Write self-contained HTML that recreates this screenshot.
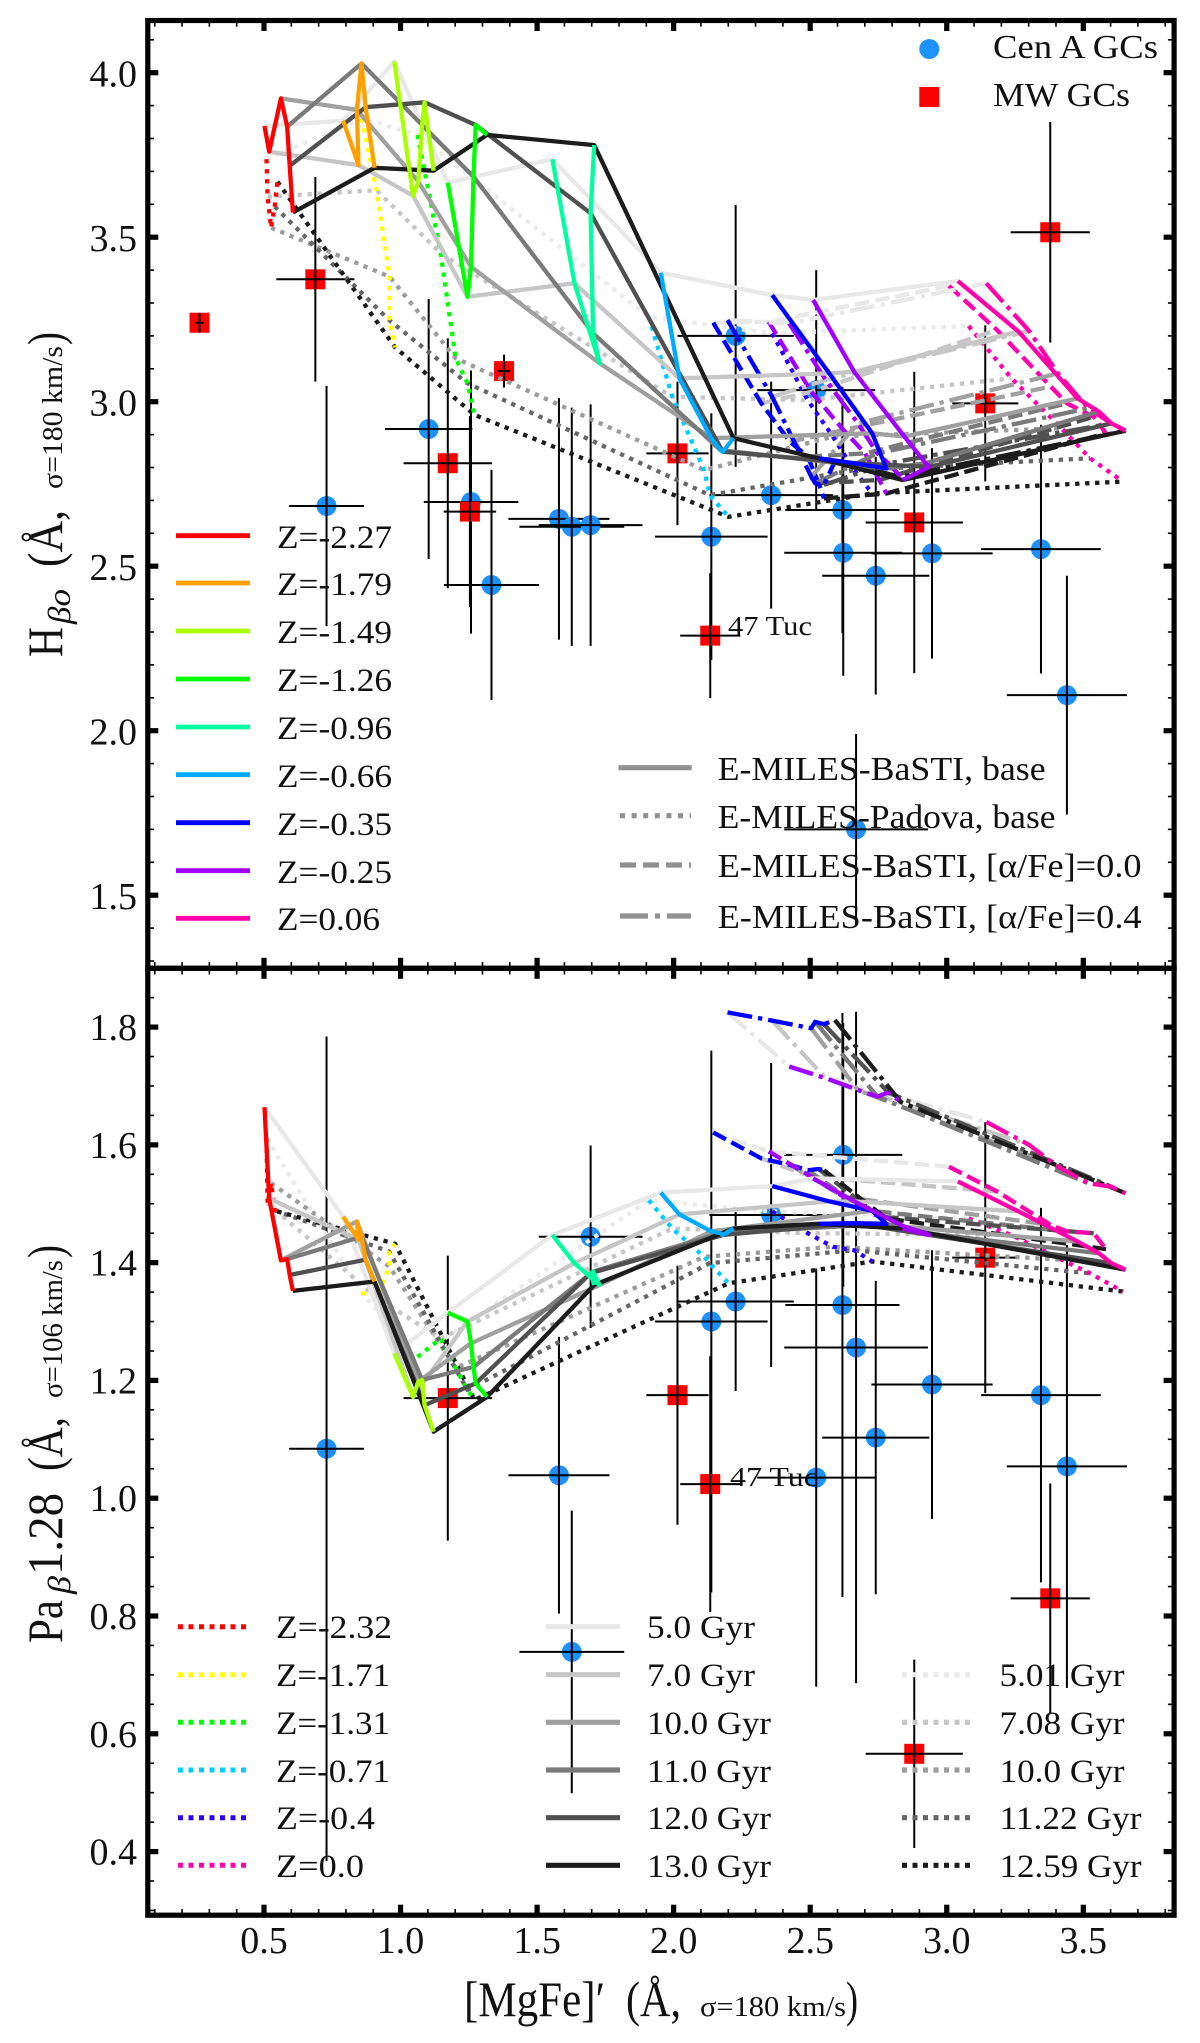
<!DOCTYPE html>
<html lang="en">
<head>
<meta charset="utf-8">
<title>H-beta and Pa-beta versus MgFe index grid</title>
<style>
html,body{margin:0;padding:0;background:#fff;}
svg{display:block;}
text{font-family:"Liberation Serif","DejaVu Serif",serif;fill:#111;}
</style>
</head>
<body>
<svg id="chart" xmlns="http://www.w3.org/2000/svg" width="1200" height="2043" viewBox="0 0 1200 2043">
  <rect x="0" y="0" width="1200" height="2043" fill="#fff"/>
  <g id="data-layer"></g>
  <g id="model-layer"></g>
  <g id="axis-layer"></g>

  <!-- Axis titles -->
  <g>
    <text transform="translate(62,657) rotate(-90)" font-size="50" textLength="30" lengthAdjust="spacingAndGlyphs">H</text>
    <text transform="translate(70,624) rotate(-90)" font-size="32" font-style="italic" textLength="35" lengthAdjust="spacingAndGlyphs">βo</text>
    <text transform="translate(62,567) rotate(-90)" font-size="50" textLength="57" lengthAdjust="spacingAndGlyphs">(Å,</text>
    <text transform="translate(62,489) rotate(-90)" font-size="28" textLength="143" lengthAdjust="spacingAndGlyphs">σ=180 km/s</text>
    <text transform="translate(62,345) rotate(-90)" font-size="50" textLength="13" lengthAdjust="spacingAndGlyphs">)</text>
  </g>
  <g>
    <text transform="translate(62,1643) rotate(-90)" font-size="50" textLength="43" lengthAdjust="spacingAndGlyphs">Pa</text>
    <text transform="translate(70,1594) rotate(-90)" font-size="32" font-style="italic" textLength="18" lengthAdjust="spacingAndGlyphs">β</text>
    <text transform="translate(62,1575) rotate(-90)" font-size="50" textLength="82" lengthAdjust="spacingAndGlyphs">1.28</text>
    <text transform="translate(62,1471) rotate(-90)" font-size="50" textLength="54" lengthAdjust="spacingAndGlyphs">(Å,</text>
    <text transform="translate(62,1398) rotate(-90)" font-size="28" textLength="138" lengthAdjust="spacingAndGlyphs">σ=106 km/s</text>
    <text transform="translate(62,1258) rotate(-90)" font-size="50" textLength="13" lengthAdjust="spacingAndGlyphs">)</text>
  </g>
  <g>
    <text x="464" y="2016" font-size="50" textLength="141" lengthAdjust="spacingAndGlyphs">[MgFe]′</text>
    <text x="626" y="2016" font-size="50" textLength="55" lengthAdjust="spacingAndGlyphs">(Å,</text>
    <text x="700" y="2016" font-size="28" textLength="146" lengthAdjust="spacingAndGlyphs">σ=180 km/s</text>
    <text x="846" y="2016" font-size="50" textLength="12" lengthAdjust="spacingAndGlyphs">)</text>
  </g>

  <!-- Top-right marker legend -->
  <g>
    <circle cx="929.3" cy="49" r="10" fill="#1e90ff"/>
    <text x="993" y="58" font-size="34" textLength="165" lengthAdjust="spacingAndGlyphs">Cen A GCs</text>
  </g>
  <g>
    <rect x="919.3" y="87" width="20" height="20" fill="#ff0000"/>
    <text x="993" y="106" font-size="34" textLength="137" lengthAdjust="spacingAndGlyphs">MW GCs</text>
  </g>

  <!-- Top-left metallicity legend -->
  <g><line x1="176" x2="250" y1="535.7" y2="535.7" stroke="#ff0000" stroke-width="4.8"/><text x="277" y="548" font-size="33" textLength="115" lengthAdjust="spacingAndGlyphs">Z=-2.27</text></g>
  <g><line x1="176" x2="250" y1="583" y2="583" stroke="#ffa000" stroke-width="4.8"/><text x="277" y="595" font-size="33" textLength="115" lengthAdjust="spacingAndGlyphs">Z=-1.79</text></g>
  <g><line x1="176" x2="250" y1="631" y2="631" stroke="#aaff00" stroke-width="4.8"/><text x="277" y="643" font-size="33" textLength="115" lengthAdjust="spacingAndGlyphs">Z=-1.49</text></g>
  <g><line x1="176" x2="250" y1="679" y2="679" stroke="#00ff00" stroke-width="4.8"/><text x="277" y="691" font-size="33" textLength="115" lengthAdjust="spacingAndGlyphs">Z=-1.26</text></g>
  <g><line x1="176" x2="250" y1="727" y2="727" stroke="#00ffa0" stroke-width="4.8"/><text x="277" y="739" font-size="33" textLength="115" lengthAdjust="spacingAndGlyphs">Z=-0.96</text></g>
  <g><line x1="176" x2="250" y1="774.7" y2="774.7" stroke="#00aaff" stroke-width="4.8"/><text x="277" y="787" font-size="33" textLength="115" lengthAdjust="spacingAndGlyphs">Z=-0.66</text></g>
  <g><line x1="176" x2="250" y1="822.7" y2="822.7" stroke="#0000ff" stroke-width="4.8"/><text x="277" y="835" font-size="33" textLength="115" lengthAdjust="spacingAndGlyphs">Z=-0.35</text></g>
  <g><line x1="176" x2="250" y1="870.7" y2="870.7" stroke="#a000ff" stroke-width="4.8"/><text x="277" y="883" font-size="33" textLength="115" lengthAdjust="spacingAndGlyphs">Z=-0.25</text></g>
  <g><line x1="176" x2="250" y1="918.3" y2="918.3" stroke="#ff00aa" stroke-width="4.8"/><text x="277" y="930" font-size="33" textLength="103" lengthAdjust="spacingAndGlyphs">Z=0.06</text></g>

  <!-- Model type legend -->
  <g><line x1="618.5" x2="691.7" y1="767.7" y2="767.7" stroke="#909090" stroke-width="5.2"/><text x="717.6" y="780" font-size="34" textLength="328" lengthAdjust="spacingAndGlyphs">E-MILES-BaSTI, base</text></g>
  <g><line x1="620" x2="691" y1="815.7" y2="815.7" stroke="#909090" stroke-width="5.2" stroke-dasharray="5 6.6"/><text x="717.6" y="828" font-size="34" textLength="338" lengthAdjust="spacingAndGlyphs">E-MILES-Padova, base</text></g>
  <g><line x1="620" x2="691" y1="865" y2="865" stroke="#909090" stroke-width="5.2" stroke-dasharray="16 7"/><text x="717.6" y="877" font-size="34" textLength="424" lengthAdjust="spacingAndGlyphs">E-MILES-BaSTI, [α/Fe]=0.0</text></g>
  <g><line x1="620" x2="691" y1="916" y2="916" stroke="#909090" stroke-width="5.2" stroke-dasharray="28 7 5 7"/><text x="717.6" y="928" font-size="34" textLength="424" lengthAdjust="spacingAndGlyphs">E-MILES-BaSTI, [α/Fe]=0.4</text></g>

  <!-- Bottom legends: Padova metallicity -->
  <g><line x1="178" x2="249" y1="1626.7" y2="1626.7" stroke="#ff0000" stroke-width="5" stroke-dasharray="5 5.5"/><text x="276" y="1638" font-size="33" textLength="116" lengthAdjust="spacingAndGlyphs">Z=-2.32</text></g>
  <g><line x1="178" x2="249" y1="1674.7" y2="1674.7" stroke="#ffff00" stroke-width="5" stroke-dasharray="5 5.5"/><text x="276" y="1686" font-size="33" textLength="114" lengthAdjust="spacingAndGlyphs">Z=-1.71</text></g>
  <g><line x1="178" x2="249" y1="1722.3" y2="1722.3" stroke="#00ff00" stroke-width="5" stroke-dasharray="5 5.5"/><text x="276" y="1734" font-size="33" textLength="114" lengthAdjust="spacingAndGlyphs">Z=-1.31</text></g>
  <g><line x1="178" x2="249" y1="1770" y2="1770" stroke="#00ccff" stroke-width="5" stroke-dasharray="5 5.5"/><text x="276" y="1782" font-size="33" textLength="114" lengthAdjust="spacingAndGlyphs">Z=-0.71</text></g>
  <g><line x1="178" x2="249" y1="1817.7" y2="1817.7" stroke="#2a00ff" stroke-width="5" stroke-dasharray="5 5.5"/><text x="276" y="1829" font-size="33" textLength="99" lengthAdjust="spacingAndGlyphs">Z=-0.4</text></g>
  <g><line x1="178" x2="249" y1="1865.3" y2="1865.3" stroke="#ff00aa" stroke-width="5" stroke-dasharray="5 5.5"/><text x="276" y="1877" font-size="33" textLength="88" lengthAdjust="spacingAndGlyphs">Z=0.0</text></g>

  <!-- Bottom legends: BaSTI ages -->
  <g><line x1="546" x2="620" y1="1626.7" y2="1626.7" stroke="#e8e8e8" stroke-width="5.2"/><text x="647" y="1638" font-size="33" textLength="108" lengthAdjust="spacingAndGlyphs">5.0 Gyr</text></g>
  <g><line x1="546" x2="620" y1="1674.7" y2="1674.7" stroke="#c6c6c6" stroke-width="5.2"/><text x="647" y="1686" font-size="33" textLength="108" lengthAdjust="spacingAndGlyphs">7.0 Gyr</text></g>
  <g><line x1="546" x2="620" y1="1722.3" y2="1722.3" stroke="#a0a0a0" stroke-width="5.2"/><text x="647" y="1734" font-size="33" textLength="124" lengthAdjust="spacingAndGlyphs">10.0 Gyr</text></g>
  <g><line x1="546" x2="620" y1="1770" y2="1770" stroke="#7a7a7a" stroke-width="5.2"/><text x="647" y="1782" font-size="33" textLength="124" lengthAdjust="spacingAndGlyphs">11.0 Gyr</text></g>
  <g><line x1="546" x2="620" y1="1817.7" y2="1817.7" stroke="#505050" stroke-width="5.2"/><text x="647" y="1829" font-size="33" textLength="124" lengthAdjust="spacingAndGlyphs">12.0 Gyr</text></g>
  <g><line x1="546" x2="620" y1="1865.3" y2="1865.3" stroke="#1c1c1c" stroke-width="5.2"/><text x="647" y="1877" font-size="33" textLength="124" lengthAdjust="spacingAndGlyphs">13.0 Gyr</text></g>

  <!-- Bottom legends: Padova ages -->
  <g><line x1="902" x2="972" y1="1674.7" y2="1674.7" stroke="#ebebeb" stroke-width="5.2" stroke-dasharray="5 5.5"/><text x="999.5" y="1686" font-size="33" textLength="125" lengthAdjust="spacingAndGlyphs">5.01 Gyr</text></g>
  <g><line x1="902" x2="972" y1="1722.3" y2="1722.3" stroke="#c6c6c6" stroke-width="5.2" stroke-dasharray="5 5.5"/><text x="999.5" y="1734" font-size="33" textLength="125" lengthAdjust="spacingAndGlyphs">7.08 Gyr</text></g>
  <g><line x1="902" x2="972" y1="1770" y2="1770" stroke="#9c9c9c" stroke-width="5.2" stroke-dasharray="5 5.5"/><text x="999.5" y="1782" font-size="33" textLength="125" lengthAdjust="spacingAndGlyphs">10.0 Gyr</text></g>
  <g><line x1="902" x2="972" y1="1817.7" y2="1817.7" stroke="#666666" stroke-width="5.2" stroke-dasharray="5 5.5"/><text x="999.5" y="1829" font-size="33" textLength="142" lengthAdjust="spacingAndGlyphs">11.22 Gyr</text></g>
  <g><line x1="902" x2="972" y1="1865.3" y2="1865.3" stroke="#1c1c1c" stroke-width="5.2" stroke-dasharray="5 5.5"/><text x="999.5" y="1877" font-size="33" textLength="142" lengthAdjust="spacingAndGlyphs">12.59 Gyr</text></g>

  <text x="728" y="635" font-size="27" textLength="84" lengthAdjust="spacingAndGlyphs">47 Tuc</text>
  <text x="730" y="1486" font-size="27" textLength="88" lengthAdjust="spacingAndGlyphs">47 Tuc</text>
</svg>

<script>
// Tick labels
const xTickLabels = ['0.5','1.0','1.5','2.0','2.5','3.0','3.5'];
const yTopTickLabels = ['1.5','2.0','2.5','3.0','3.5','4.0'];
const yBottomTickLabels = ['0.4','0.6','0.8','1.0','1.2','1.4','1.6','1.8'];

// Age / metallicity colours of the model grids
const baseZColors = ['#ff0000','#ffa000','#aaff00','#00ff00','#00ffa0','#00aaff','#0000ff','#a000ff','#ff00aa'];
const padovaZColors = ['#ff0000','#ffff00','#00ff00','#00ccff','#2a00ff','#ff00aa'];
const alphaZColors = ['#0000ff','#a000ff','#ff00aa'];
const ageGrays = ['#e8e8e8','#c6c6c6','#a0a0a0','#7a7a7a','#505050','#1c1c1c'];
const padovaGrays = ['#ebebeb','#c6c6c6','#9c9c9c','#666666','#1c1c1c'];

// BaSTI base: rows = Z, columns = age (5, 7, 10, 11, 12, 13 Gyr)
const xBase = [
 [0.502,0.519,0.562,0.585,0.594,0.606],
 [0.790,0.846,0.840,0.857,0.872,0.905],
 [0.977,1.046,1.065,1.079,1.088,1.121],
 [1.173,1.245,1.258,1.267,1.275,1.317],
 [1.556,1.637,1.729,1.705,1.696,1.709],
 [1.953,2.021,2.138,2.171,2.180,2.219],
 [2.361,2.570,2.727,2.779,2.661,2.531],
 [2.511,2.661,2.845,2.923,2.936,2.838],
 [3.041,3.263,3.479,3.557,3.603,3.655]];
const hbBase = [
 [3.838,3.760,3.922,3.836,3.717,3.575],
 [3.854,3.719,3.887,4.028,3.895,3.711],
 [4.034,3.626,3.669,3.841,3.910,3.702],
 [3.666,3.319,3.410,3.684,3.841,3.811],
 [3.737,3.360,3.117,3.208,3.573,3.780],
 [3.392,3.071,2.889,2.853,2.848,2.889],
 [3.324,3.086,2.904,2.797,2.813,2.828],
 [3.309,3.091,2.894,2.813,2.802,2.762],
 [3.367,3.213,3.010,2.970,2.934,2.912]];
const paBase = [
 [1.664,1.509,1.404,1.406,1.379,1.352],
 [1.478,1.439,1.470,1.444,1.405,1.368],
 [1.246,1.172,1.198,1.201,1.158,1.113],
 [1.315,1.300,1.263,1.223,1.195,1.172],
 [1.447,1.399,1.362,1.385,1.382,1.362],
 [1.519,1.482,1.453,1.450,1.447,1.458],
 [1.530,1.504,1.488,1.466,1.467,1.466],
 [1.543,1.504,1.461,1.450,1.447,1.458],
 [1.538,1.487,1.436,1.416,1.399,1.388]];

// Padova base: rows = Z, columns = age (5.01, 7.08, 10, 11.22, 12.59 Gyr)
const xPadova = [
 [0.509,0.513,0.526,0.539,0.549],
 [0.859,0.912,0.960,0.958,0.980],
 [1.062,1.147,1.202,1.245,1.271],
 [1.909,1.995,2.112,2.132,2.201],
 [2.361,2.491,2.583,2.661,2.727],
 [3.080,3.237,3.420,3.525,3.645]];
const hbPadova = [
 [3.737,3.623,3.529,3.593,3.669],
 [3.861,3.643,3.380,3.248,3.165],
 [3.811,3.451,3.132,3.056,2.960],
 [3.258,3.015,2.792,2.716,2.650],
 [3.208,3.005,2.894,2.792,2.721],
 [3.230,3.071,2.919,2.828,2.757]];
const paPadova = [
 [1.611,1.501,1.535,1.489,1.487],
 [1.349,1.341,1.393,1.419,1.432],
 [1.240,1.271,1.221,1.184,1.167],
 [1.506,1.458,1.410,1.399,1.365],
 [1.487,1.450,1.427,1.421,1.402],
 [1.475,1.447,1.405,1.382,1.351]];

// BaSTI [alpha/Fe]=0.0: rows = Z (-0.35, -0.25, 0.06), columns = age
const xAlpha0 = [
 [2.145,2.321,2.426,2.491,2.531,2.550],
 [2.348,2.504,2.622,2.701,2.753,2.779],
 [3.008,3.184,3.381,3.440,3.538,3.583]];
const hbAlpha0 = [
 [3.240,2.995,2.878,2.833,2.752,2.706],
 [3.243,3.030,2.914,2.843,2.762,2.721],
 [3.352,3.218,3.046,2.995,2.954,2.904]];
const paAlpha0 = [
 [1.621,1.577,1.566,1.557,1.559,1.557],
 [1.589,1.546,1.512,1.489,1.478,1.475],
 [1.563,1.521,1.464,1.453,1.450,1.423]];

// BaSTI [alpha/Fe]=0.4: rows = Z (-0.35, -0.25, 0.06), columns = age
const xAlpha4 = [
 [2.197,2.361,2.504,2.518,2.550,2.590],
 [2.423,2.557,2.675,2.746,2.786,2.831],
 [3.145,3.302,3.407,3.518,3.603,3.655]];
const hbAlpha4 = [
 [3.248,3.015,2.772,2.752,2.747,2.818],
 [3.238,3.066,2.934,2.843,2.813,2.772],
 [3.360,3.215,3.086,2.980,2.934,2.912]];
const paAlpha4 = [
 [1.825,1.811,1.798,1.809,1.805,1.812],
 [1.733,1.713,1.693,1.682,1.689,1.673],
 [1.639,1.600,1.563,1.535,1.529,1.518]];

// Cen A globular clusters
const cenX = [0.729,1.103,1.258,1.333,1.580,1.627,1.696,2.138,2.227,2.357,2.522,2.618,2.621,2.668,2.740,2.946,3.345,3.440];
const cenXErr = [0.137,0.160,0.173,0.174,0.185,0.192,0.190,0.206,0.213,0.226,0.216,0.209,0.216,0.263,0.196,0.222,0.219,0.220];
const cenHb = [2.683,2.917,2.695,2.443,2.644,2.620,2.625,2.590,3.200,2.716,3.035,2.671,2.541,1.700,2.471,2.539,2.552,2.108];
const cenHbErr = [0.365,0.395,0.400,0.350,0.367,0.362,0.367,0.375,0.398,0.345,0.365,0.374,0.374,0.290,0.361,0.320,0.378,0.363];
const cenPa = [1.084,null,null,null,1.039,0.739,1.444,1.300,1.334,1.481,1.035,1.328,1.583,1.256,1.103,1.193,1.175,1.054];
const cenPaErr = [0.700,null,null,null,0.235,0.240,0.155,0.460,0.152,0.258,0.355,0.496,0.224,0.570,0.266,0.228,0.318,0.376];

// Milky Way globular clusters
const mwX = [0.264,0.688,1.173,1.254,1.379,2.014,2.134,2.881,3.141,3.379];
const mwXErr = [0.016,0.143,0.162,0.096,0.023,0.114,0.110,0.178,0.121,0.145];
const mwHb = [3.240,3.372,2.813,2.666,3.093,2.843,2.289,2.633,2.995,3.515];
const mwHbErr = [0.030,0.311,0.380,0.290,0.050,0.218,0.190,0.458,0.237,0.335];
const mwPa = [null,null,1.170,null,null,1.175,1.024,0.566,1.4085,0.830];
const mwPaErr = [null,null,0.242,null,null,0.220,0.217,0.160,0.230,0.195];

// Axis functions
function xScale(v){ return 264 + (v - 0.5) * 273.1; }
function yTop(v){ return 72.7 + (4 - v) * 329; }
function yBottom(v){ return 1616 + (0.8 - v) * 588.9; }

const SVGNS = 'http://www.w3.org/2000/svg';
const dataLayer = document.getElementById('data-layer');
const modelLayer = document.getElementById('model-layer');
const axisLayer = document.getElementById('axis-layer');

function mk(tag, attrs, parent){
  const el = document.createElementNS(SVGNS, tag);
  for (const k in attrs) el.setAttribute(k, attrs[k]);
  parent.appendChild(el);
  return el;
}

const LW = 4.3;
const DOTTED = '4.3 5.7';
const DASHED = '14.5 6';
const DASHDOT = '25 6 4.3 6';

function polyPoints(xs, ys, yFn){
  const pts = [];
  for (let i = 0; i < xs.length; i++) {
    pts.push(xScale(xs[i]).toFixed(1) + ',' + yFn(ys[i]).toFixed(1));
  }
  return pts.join(' ');
}

function drawGrid(panel, model, gridX, gridY, yFn, zColors, grays, dash){
  const nAges = gridX[0].length;
  for (let a = 0; a < nAges; a++) {
    const xs = gridX.map(function(r){ return r[a]; });
    const ys = gridY.map(function(r){ return r[a]; });
    const el = mk('polyline', {points: polyPoints(xs, ys, yFn), fill: 'none', stroke: grays[a], 'stroke-width': LW, 'stroke-linejoin': 'round'}, modelLayer);
    if (dash) el.setAttribute('stroke-dasharray', dash);
    
    
  }
  for (let z = 0; z < gridX.length; z++) {
    const el = mk('polyline', {points: polyPoints(gridX[z], gridY[z], yFn), fill: 'none', stroke: zColors[z], 'stroke-width': LW, 'stroke-linejoin': 'round'}, modelLayer);
    if (dash) el.setAttribute('stroke-dasharray', dash);
    
    
  }
}

drawGrid('hbeta', 'padova', xPadova, hbPadova, yTop, padovaZColors, padovaGrays, DOTTED);
drawGrid('hbeta', 'alpha-0-0', xAlpha0, hbAlpha0, yTop, alphaZColors, ageGrays, DASHED);
drawGrid('hbeta', 'alpha-0-4', xAlpha4, hbAlpha4, yTop, alphaZColors, ageGrays, DASHDOT);
drawGrid('hbeta', 'basti-base', xBase, hbBase, yTop, baseZColors, ageGrays, null);
drawGrid('pabeta', 'padova', xPadova, paPadova, yBottom, padovaZColors, padovaGrays, DOTTED);
drawGrid('pabeta', 'alpha-0-0', xAlpha0, paAlpha0, yBottom, alphaZColors, ageGrays, DASHED);
drawGrid('pabeta', 'alpha-0-4', xAlpha4, paAlpha4, yBottom, alphaZColors, ageGrays, DASHDOT);
drawGrid('pabeta', 'basti-base', xBase, paBase, yBottom, baseZColors, ageGrays, null);

function drawPoints(panel, kind, xs, xErr, ys, yErr, yFn){
  for (let i = 0; i < xs.length; i++) {
    if (ys[i] === null) continue;
    const cx = xScale(xs[i]);
    const cy = yFn(ys[i]);
    let marker;
    if (kind === 'cen-a') {
      marker = mk('circle', {cx: cx, cy: cy, r: 10, fill: '#1e90ff'}, dataLayer);
    } else {
      marker = mk('rect', {x: cx - 10, y: cy - 10, width: 20, height: 20, fill: '#ff0000'}, dataLayer);
    }
    
    
    const hBar = mk('line', {x1: xScale(xs[i] - xErr[i]), x2: xScale(xs[i] + xErr[i]), y1: cy, y2: cy, stroke: '#000', 'stroke-width': 2}, dataLayer);
    
    
    const vBar = mk('line', {x1: cx, x2: cx, y1: yFn(ys[i] + yErr[i]), y2: yFn(ys[i] - yErr[i]), stroke: '#000', 'stroke-width': 2}, dataLayer);
    
    
  }
}

drawPoints('hbeta', 'cen-a', cenX, cenXErr, cenHb, cenHbErr, yTop);
drawPoints('hbeta', 'mw', mwX, mwXErr, mwHb, mwHbErr, yTop);
drawPoints('pabeta', 'cen-a', cenX, cenXErr, cenPa, cenPaErr, yBottom);
drawPoints('pabeta', 'mw', mwX, mwXErr, mwPa, mwPaErr, yBottom);

// Frames
const FRAME_L = 147.8, FRAME_R = 1174.1, FRAME_T = 20.5, FRAME_M = 968.3, FRAME_B = 1915.2, FW = 5.2;
const frameTop = mk('rect', {x: FRAME_L, y: FRAME_T, width: FRAME_R - FRAME_L, height: FRAME_M - FRAME_T, fill: 'none', stroke: '#000', 'stroke-width': FW}, axisLayer);


const frameBottom = mk('rect', {x: FRAME_L, y: FRAME_M, width: FRAME_R - FRAME_L, height: FRAME_B - FRAME_M, fill: 'none', stroke: '#000', 'stroke-width': FW}, axisLayer);



function tickLine(x1, y1, x2, y2, w, name){
  const el = mk('line', {x1: x1, y1: y1, x2: x2, y2: y2, stroke: '#000', 'stroke-width': w}, axisLayer);
  
  
}

const MAJ = 10.5, MIN = 6.2, MAJW = 5.2, MINW = 1.6;

function drawXTicks(yT, yB, panel){
  for (let t = 1; t <= 38; t++) {
    const v = t / 10;
    const major = t % 5 === 0;
    const x = xScale(v);
    const len = major ? MAJ : MIN;
    const w = major ? MAJW : MINW;
    tickLine(x, yT, x, yT + len, w, panel + '-top-tick');
    tickLine(x, yB, x, yB - len, w, panel + '-bottom-tick');
  }
}
drawXTicks(FRAME_T, FRAME_M, 'hbeta');
drawXTicks(FRAME_M, FRAME_B, 'pabeta');

for (let t = 13; t <= 41; t++) {
  const major = t % 5 === 0;
  const y = yTop(t / 10);
  const len = major ? MAJ : MIN;
  const w = major ? MAJW : MINW;
  tickLine(FRAME_L, y, FRAME_L + len, y, w, 'hbeta-left-tick');
  tickLine(FRAME_R, y, FRAME_R - len, y, w, 'hbeta-right-tick');
}
for (let t = 6; t <= 37; t++) {
  const major = t % 4 === 0;
  const y = yBottom(t / 20);
  const len = major ? MAJ : MIN;
  const w = major ? MAJW : MINW;
  tickLine(FRAME_L, y, FRAME_L + len, y, w, 'pabeta-left-tick');
  tickLine(FRAME_R, y, FRAME_R - len, y, w, 'pabeta-right-tick');
}

// Tick labels
xTickLabels.forEach(function(label){
  const el = mk('text', {x: xScale(parseFloat(label)), y: 1953, 'font-size': 38, 'text-anchor': 'middle'}, axisLayer);
  el.textContent = label;
  
  
});
yTopTickLabels.forEach(function(label){
  const el = mk('text', {x: 137, y: yTop(parseFloat(label)) + 14, 'font-size': 38, 'text-anchor': 'end'}, axisLayer);
  el.textContent = label;
  
  
});
yBottomTickLabels.forEach(function(label){
  const el = mk('text', {x: 137, y: yBottom(parseFloat(label)) + 13, 'font-size': 38, 'text-anchor': 'end'}, axisLayer);
  el.textContent = label;
  
  
});
</script>
</body>
</html>
